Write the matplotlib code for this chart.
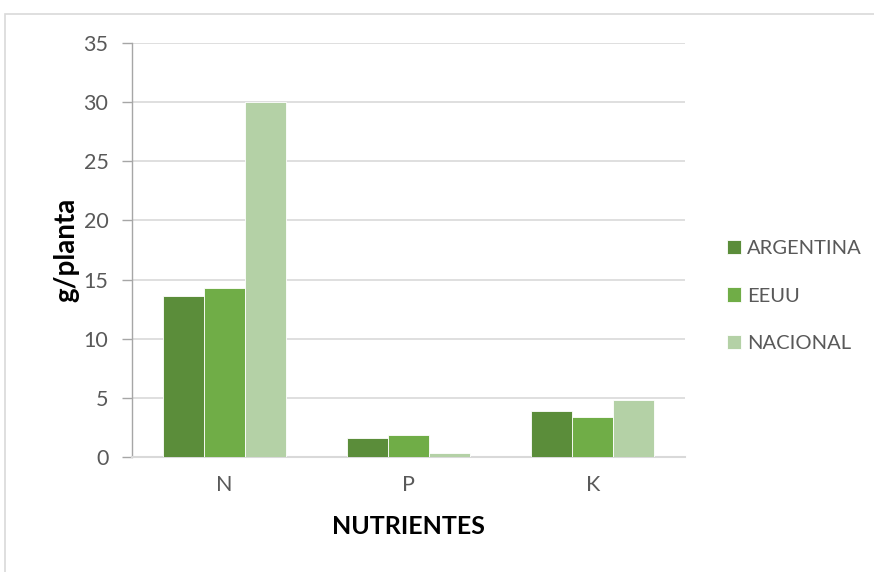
import matplotlib
matplotlib.use("Agg")
import matplotlib.pyplot as plt
from matplotlib.patches import Rectangle
import numpy as np

plt.rcParams['font.family'] = ['Lato', 'DejaVu Sans']

categories = ["N", "P", "K"]
series_names = ["ARGENTINA", "EEUU", "NACIONAL"]
argentina = [13.65, 1.6, 3.85]
eeuu = [14.3, 1.83, 3.4]
nacional = [30.0, 0.32, 4.8]
y_ticks = [0, 5, 10, 15, 20, 25, 30, 35]

colors = ["#5B8D3A", "#70AD47", "#B4D1A6"]
text_gray = "#595959"
grid_gray = "#D9D9D9"

fig = plt.figure(figsize=(8.74, 5.72), dpi=100)
fig.patches.append(Rectangle((5 / 874, -0.1), 1.2, 1 - 14 / 572 + 0.1,
                             transform=fig.transFigure, fill=False,
                             edgecolor="#D9D9D9", linewidth=1.2))

ax = fig.add_axes([132 / 874, 1 - 457 / 572, (685 - 132) / 874, (457 - 43) / 572])

x = np.arange(len(categories))
width = 0.222
for i, (vals, name) in enumerate(zip([argentina, eeuu, nacional], series_names)):
    ax.bar(x + (i - 1) * width, vals, width, color=colors[i], label=name,
           edgecolor="white", linewidth=0.6, zorder=3)

ax.set_xlim(-0.5, 2.5)
ax.set_ylim(0, 35)
ax.set_yticks(y_ticks)
ax.set_xticks(x)
ax.set_xticklabels(categories)
ax.yaxis.grid(True, color=grid_gray, linewidth=1.2, zorder=0)
ax.set_axisbelow(True)

for s in ["top", "right"]:
    ax.spines[s].set_visible(False)
ax.spines["left"].set_color("#A6A6A6")
ax.spines["left"].set_linewidth(1.0)
ax.spines["bottom"].set_color(grid_gray)
ax.spines["bottom"].set_linewidth(1.5)

ax.tick_params(axis="y", length=7, width=1.0, color="#A6A6A6",
               labelcolor=text_gray, labelsize=15.5, pad=10)
ax.tick_params(axis="x", length=0, labelcolor=text_gray, labelsize=15.5, pad=13)

ax.set_ylabel("g/planta", fontsize=20, fontweight="bold", color="black",
              va="center")
ax.yaxis.set_label_coords((66 - 132) / 553, 0.50)
ax.set_xlabel("NUTRIENTES", fontsize=18, fontweight="bold", color="black", labelpad=14)

leg = ax.legend(loc="center left", bbox_to_anchor=(709 / 874, 1 - 296 / 572),
                bbox_transform=fig.transFigure, frameon=False,
                fontsize=14.5, labelcolor=text_gray, handlelength=0.7,
                handleheight=0.7, handletextpad=0.3, labelspacing=1.5)

fig.savefig("out.png", dpi=100, facecolor="white")
